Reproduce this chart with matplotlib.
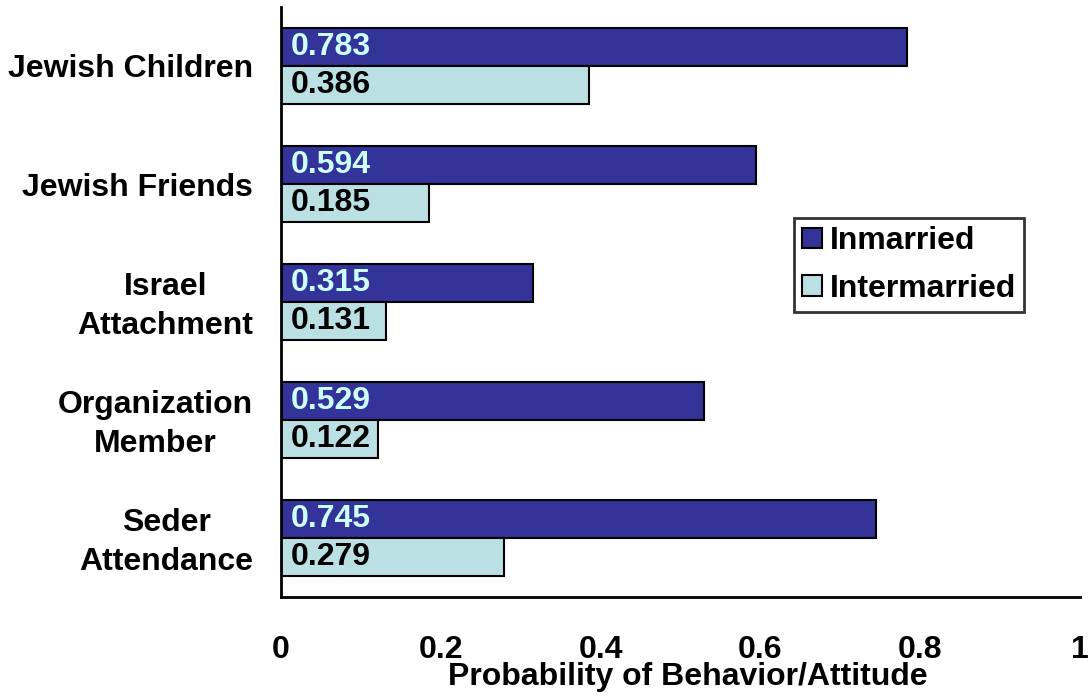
import matplotlib
matplotlib.use("Agg")
import matplotlib.pyplot as plt
from matplotlib.transforms import ScaledTranslation
import numpy as np

categories = ["Jewish Children", "Jewish Friends", "Israel\nAttachment",
              "Organization\nMember", "Seder\nAttendance"]
inmarried = [0.783, 0.594, 0.315, 0.529, 0.745]
intermarried = [0.386, 0.185, 0.131, 0.122, 0.279]
series_names = ["Inmarried", "Intermarried"]
xticks = [0, 0.2, 0.4, 0.6, 0.8, 1]
xtick_labels = ["0", "0.2", "0.4", "0.6", "0.8", "1"]

plt.rcParams["font.family"] = ["Liberation Sans", "DejaVu Sans"]
plt.rcParams["font.weight"] = "bold"
FS = 23

fig = plt.figure(figsize=(10.89, 6.96), dpi=100)
ax = fig.add_axes([0.258, 0.142, 0.7337, 0.848])

y = np.arange(len(categories))
h = 0.322
dark = "#333399"
light = "#BBE0E3"

ax.barh(y - h / 2, inmarried, height=h, color=dark, edgecolor="black",
        linewidth=1.5, label=series_names[0])
ax.barh(y + h / 2, intermarried, height=h, color=light, edgecolor="black",
        linewidth=1.5, label=series_names[1])

for yi, v in zip(y - h / 2, inmarried):
    ax.text(0.012, yi, f"{v:.3f}", va="center", ha="left", fontsize=FS,
            fontweight="bold", color="#CCFFFF")
for yi, v in zip(y + h / 2, intermarried):
    ax.text(0.012, yi, f"{v:.3f}", va="center", ha="left", fontsize=FS,
            fontweight="bold", color="black")

ax.set_xlim(0, 1)
ax.set_ylim(4.5, -0.5)
ax.set_yticks(y)
ax.set_yticklabels(categories, fontsize=FS, fontweight="bold", linespacing=1.39,
                   multialignment="center")
ax.set_xticks(xticks)
ax.set_xticklabels(xtick_labels, fontsize=FS, fontweight="bold")
ax.tick_params(axis="both", length=0)
ax.tick_params(axis="x", pad=27)
ax.tick_params(axis="y", pad=20)

# two-line category labels sit a little high to stay centred on their group
for lab in ax.get_yticklabels():
    if "\n" in lab.get_text():
        lab.set_transform(lab.get_transform()
                          + ScaledTranslation(0, 4 / 100, fig.dpi_scale_trans))

for s in ["top", "right"]:
    ax.spines[s].set_visible(False)
for s in ["left", "bottom"]:
    ax.spines[s].set_linewidth(2)

fig.text(687.5 / 1089, 1 - 677 / 696, "Probability of Behavior/Attitude",
         fontsize=FS, fontweight="bold", ha="center", va="center")

leg = ax.legend(loc="upper left", bbox_to_anchor=(0.642, 0.642), fontsize=FS,
                frameon=True, fancybox=False, edgecolor="black",
                handlelength=0.62, handleheight=0.62, handletextpad=0.25,
                borderpad=0.25, labelspacing=0.55, borderaxespad=0)
leg.get_frame().set_linewidth(2)

fig.savefig("out.png", dpi=100)
